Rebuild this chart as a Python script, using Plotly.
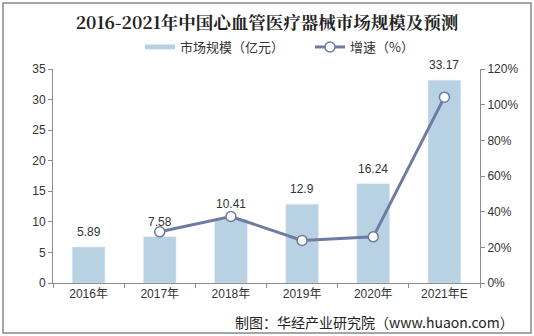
import plotly.graph_objects as go

years = ["2016年", "2017年", "2018年", "2019年", "2020年", "2021年E"]
market = [5.89, 7.58, 10.41, 12.9, 16.24, 33.17]
growth = [None, 28.7, 37.3, 23.9, 25.9, 104.2]
market_labels = ["5.89", "7.58", "10.41", "12.9", "16.24", "33.17"]

FONT = "Liberation Sans, Noto Sans CJK SC, sans-serif"
BAR = "#b8d2e4"
LINE = "#6f7ba1"
AX = "#8c8c8c"

L, R, T, B = 53, 54, 69, 53
W, H = 534, 336
pw, ph = W - L - R, H - T - B

def px(x):
    return (x - L) / pw

def py(y):
    return (H - B - y) / ph

fig = go.Figure()
fig.add_trace(go.Bar(
    x=years, y=market, name="市场规模（亿元）",
    marker=dict(color=BAR), width=0.46, showlegend=False,
))
# legend entry styled as a flat strip, like the reference
fig.add_trace(go.Scatter(
    x=[None], y=[None], mode="lines", name="市场规模（亿元）",
    line=dict(color=BAR, width=5), legend="legend",
))
fig.add_trace(go.Scatter(
    x=years, y=growth, name="增速（%）", yaxis="y2",
    mode="lines+markers",
    line=dict(color=LINE, width=3),
    marker=dict(size=10, color="white", line=dict(color=LINE, width=1.5)),
    legend="legend2",
))

annotations = []
for yr, v, lab in zip(years, market, market_labels):
    annotations.append(dict(
        x=yr, y=v, xref="x", yref="y", text=lab, showarrow=False,
        yanchor="bottom", yshift=6,
        font=dict(size=12, color="#333333", family=FONT),
    ))
annotations.append(dict(
    text="制图：华经产业研究院（www.huaon.com）",
    xref="paper", yref="paper", x=px(516), y=py(322),
    xanchor="right", yanchor="middle", showarrow=False,
    font=dict(size=14, color="#222222", family="Noto Sans CJK SC, sans-serif"),
))

legend_common = dict(
    orientation="h", yanchor="middle", y=py(47),
    font=dict(size=13, color="#333333", family="Noto Sans CJK SC, sans-serif"),
    bgcolor="rgba(0,0,0,0)", itemwidth=30,
)

fig.update_layout(
    width=W, height=H,
    margin=dict(l=L, r=R, t=T, b=B),
    paper_bgcolor="white", plot_bgcolor="white",
    font=dict(family=FONT, size=12, color="#333333"),
    showlegend=True,
    title=dict(
        text="<b>2016-2021年中国心血管医疗器械市场规模及预测</b>",
        x=0.5, xanchor="center", y=1 - 23 / H, yanchor="middle",
        font=dict(size=17.5, color="#222222", family="Noto Serif CJK SC, Noto Sans CJK SC, serif"),
    ),
    legend=dict(x=px(140), xanchor="left", **legend_common),
    legend2=dict(x=px(310), xanchor="left", **legend_common),
    xaxis=dict(
        showline=True, linecolor=AX, linewidth=1,
        ticks="outside", tickcolor=AX, ticklen=4,
        tickson="boundaries", showgrid=False,
        tickfont=dict(size=12, color="#333333"),
    ),
    yaxis=dict(
        range=[0, 35], dtick=5, showline=True, linecolor=AX, linewidth=1,
        ticks="outside", tickcolor=AX, ticklen=4, showgrid=False,
        zeroline=False, tickfont=dict(size=12, color="#333333"),
    ),
    yaxis2=dict(
        range=[0, 120], dtick=20, ticksuffix="%", overlaying="y", side="right",
        showline=True, linecolor=AX, linewidth=1,
        ticks="outside", tickcolor=AX, ticklen=4, showgrid=False,
        zeroline=False, tickfont=dict(size=12, color="#333333"),
    ),
    shapes=[dict(
        type="rect", xref="paper", yref="paper",
        x0=px(3), x1=px(531), y0=py(333), y1=py(3),
        line=dict(color="#888888", width=1.5), fillcolor="rgba(0,0,0,0)",
        layer="below",
    )],
    annotations=annotations,
)

fig.write_html("out.html")
